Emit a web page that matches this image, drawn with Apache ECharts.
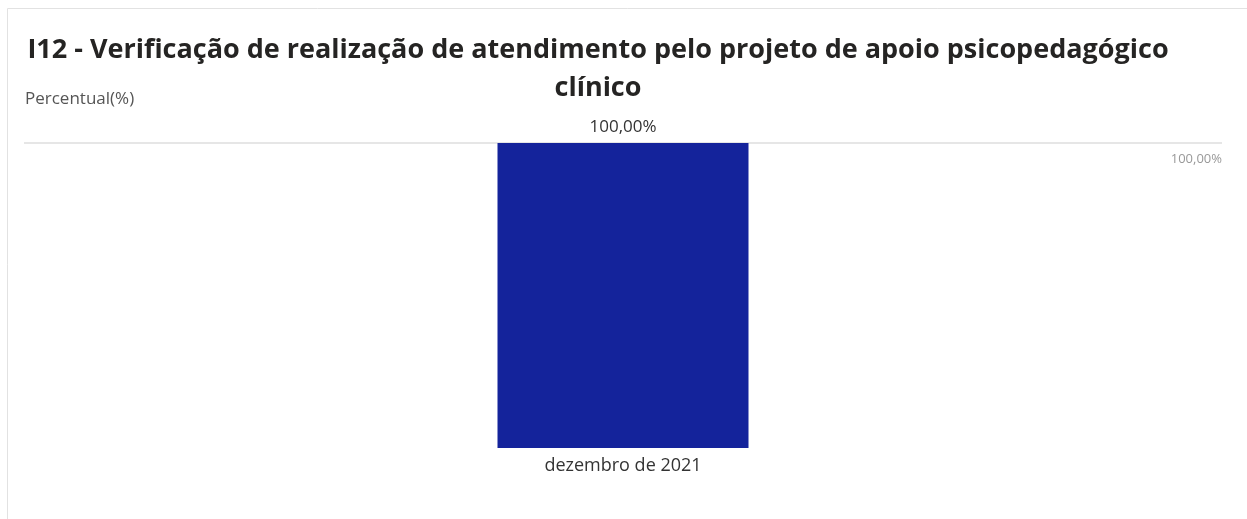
<!DOCTYPE html>
<html>
<head>
<meta charset="utf-8">
<script src="https://cdn.jsdelivr.net/npm/echarts@6/dist/echarts.min.js"></script>
<style>
  html, body { margin: 0; padding: 0; background: #fff; }
  #chart { width: 1247px; height: 519px; }
</style>
</head>
<body>
<div id="chart"></div>
<script>
// dados do gráfico
const categorias = ['dezembro de 2021']
const percentuais = [100]
const eixoMin = 0
const eixoMax = 100

const fmtPct = v => v.toFixed(2).replace('.', ',') + '%'

const myChart = echarts.init(document.getElementById('chart'))

const option = {
    backgroundColor: '#fff',
    animation: false,
    textStyle: { fontFamily: '"Open Sans", "Noto Sans", sans-serif' },
    title: [{
        text: 'I12 - Verificação de realização de atendimento pelo projeto de apoio psicopedagógico\nclínico',
        left: 593,
        top: 26,
        textAlign: 'center',
        textStyle: {
            color: '#252423',
            fontSize: 27,
            fontWeight: 'bold',
            lineHeight: 38,
            fontFamily: '"Open Sans", sans-serif'
        }
    }, {
        text: 'Percentual(%)',
        left: 20,
        top: 86,
        textStyle: {
            color: '#555',
            fontSize: 17,
            fontWeight: 'normal'
        }
    }],
    graphic: [{
        type: 'rect',
        silent: true,
        shape: { x: 7.5, y: 8.5, width: 1250, height: 520 },
        style: { fill: 'none', stroke: '#e2e2e2', lineWidth: 1 }
    }],
    grid: {
        left: 24,
        right: 25,
        top: 143,
        bottom: 71
    },
    xAxis: {
        type: 'category',
        data: categorias,
        axisLine: { show: false },
        axisTick: { show: false },
        axisLabel: {
            color: '#333',
            fontSize: 18,
            margin: 9
        }
    },
    yAxis: {
        type: 'value',
        position: 'right',
        min: eixoMin,
        max: eixoMax,
        interval: 100,
        axisLine: { show: false },
        axisTick: { show: false },
        axisLabel: {
            inside: true,
            margin: 0,
            verticalAlign: 'top',
            padding: [10, 0, 0, 0],
            color: '#999',
            fontSize: 13,
            formatter: v => (v === eixoMax ? fmtPct(v) : '')
        },
        splitLine: {
            show: true,
            lineStyle: { color: ['rgba(0,0,0,0)', '#e6e6e6'], width: 2 }
        }
    },
    series: [{
        type: 'bar',
        data: percentuais,
        barWidth: 251,
        itemStyle: { color: '#14239b' },
        label: {
            show: true,
            position: 'top',
            distance: 7,
            color: '#333',
            fontSize: 17,
            formatter: p => fmtPct(p.value)
        }
    }]
}

myChart.setOption(option)
</script>
</body>
</html>
